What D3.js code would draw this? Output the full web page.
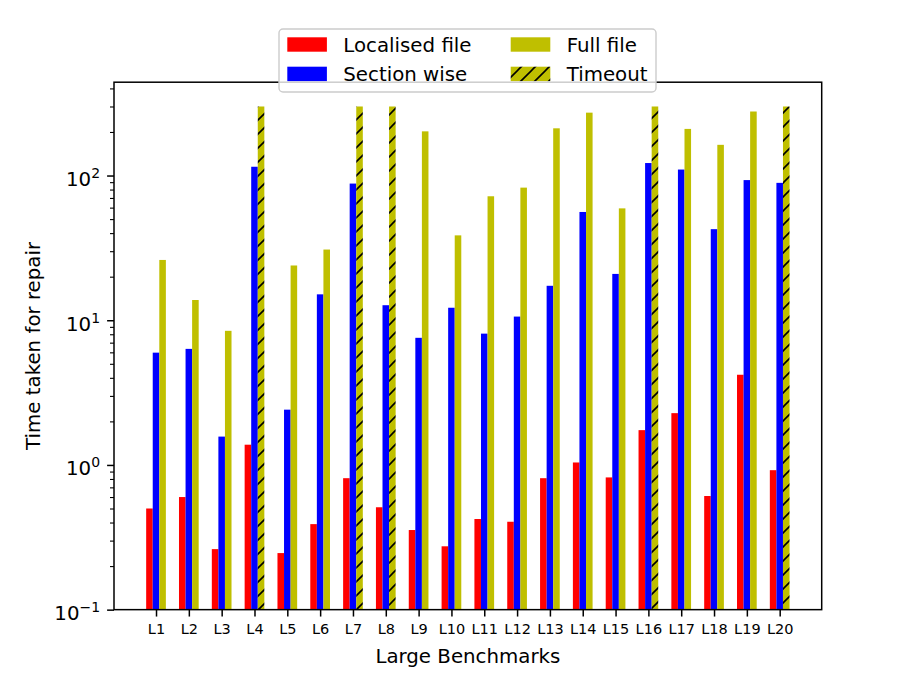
<!DOCTYPE html>
<html><head>
<meta charset="utf-8">
<title>Time taken for repair - Large Benchmarks</title>
<script src="https://cdn.jsdelivr.net/npm/d3@7/dist/d3.min.js"></script>
<style>
  body { margin: 0; background: white; }
  svg { display: block; font-family: "DejaVu Sans", sans-serif; }
</style>
</head>
<body>
<svg id="chart" width="913" height="685"></svg>

<script>
// values (seconds, log scale)
const benchmarks = ["L1","L2","L3","L4","L5","L6","L7","L8","L9","L10",
                    "L11","L12","L13","L14","L15","L16","L17","L18","L19","L20"];
const localised = [0.50,0.60,0.262,1.38,0.246,0.39,0.81,0.51,0.355,0.274,
                   0.423,0.405,0.81,1.04,0.82,1.74,2.28,0.61,4.2,0.92];
const sectionWise = [5.97,6.34,1.57,115,2.41,15.1,88,12.7,7.56,12.2,
                     8.08,10.6,17.3,56,20.9,122,110,42.6,93,89];
// null where the full-file run timed out
const fullFile = [26.1,13.8,8.45,null,23.9,30.8,null,null,202,38.6,
                  71.9,82.5,212,272,59.3,null,210,163,277,null];
const timeoutValue = 300;
const timedOut = fullFile.map(v => v === null);

const yTicks = [0.1, 1, 10, 100];
const yTickExp = ["\u22121", "0", "1", "2"];

const legendItems = [
  {label: "Localised file", color: "#ff0000", hatch: false},
  {label: "Section wise", color: "#0000ff", hatch: false},
  {label: "Full file", color: "#bfbf00", hatch: false},
  {label: "Timeout", color: "#bfbf00", hatch: true}
];

// layout (matplotlib default axes box scaled to 913x685)
const axL = 114, axR = 821.7, axT = 82.2, axB = 609.65;
const barW = 0.2;

const svg = d3.select("#chart");

// hatch pattern for timeouts
const defs = svg.append("defs");
const pat = defs.append("pattern")
  .attr("id", "hatch")
  .attr("patternUnits", "userSpaceOnUse")
  .attr("width", 14).attr("height", 14);
pat.append("rect").attr("width", 14).attr("height", 14).attr("fill", "#bfbf00");
pat.append("path")
  .attr("d", "M-3.5,3.5 L3.5,-3.5 M0,14 L14,0 M10.5,17.5 L17.5,10.5")
  .attr("stroke", "black").attr("stroke-width", 1.6);

let x = d3.scaleLinear()
  .domain([-1 - 0.28, benchmarks.length + 0.28])
  .range([axL, axR]);

let y = d3.scaleLog()
  .domain([0.1, Math.pow(10, 2.645)])
  .range([axB, axT]);

// bars
function drawBars(values, offset, fill) {
  svg.append("g").selectAll("rect")
    .data(values.map((v, i) => ({v: v, i: i})).filter(d => d.v !== null))
    .enter().append("rect")
      .attr("x", d => x(d.i + offset - barW / 2))
      .attr("width", x(barW) - x(0))
      .attr("y", d => y(d.v))
      .attr("height", d => y(0.1) - y(d.v))
      .attr("fill", fill);
}
drawBars(localised, -barW, "#ff0000");
drawBars(sectionWise, 0, "#0000ff");
drawBars(fullFile, barW, "#bfbf00");
drawBars(timedOut.map(t => t ? timeoutValue : null), barW, "url(#hatch)");

// x axis
let xAxis = svg.append("g")
  .attr("transform", "translate(0," + axB + ")")
  .call(d3.axisBottom(x)
    .tickValues(d3.range(benchmarks.length))
    .tickFormat(i => benchmarks[i])
    .tickSize(6.9).tickPadding(7).tickSizeOuter(0));
xAxis.select(".domain").remove();
xAxis.selectAll(".tick line").attr("stroke-width", 1.5);
xAxis.selectAll(".tick text")
  .attr("font-size", "14.5px").attr("font-family", "DejaVu Sans").attr("fill", "black");

// y axis, minor ticks
let minor = [];
for (let e = -1; e < 3; e++) {
  for (let k = 2; k <= 9; k++) {
    let v = k * Math.pow(10, e);
    if (v < y.domain()[1]) minor.push(v);
  }
}
let yMinor = svg.append("g")
  .attr("transform", "translate(" + axL + ",0)")
  .call(d3.axisLeft(y).tickValues(minor).tickFormat("").tickSize(4).tickSizeOuter(0));
yMinor.select(".domain").remove();
yMinor.selectAll(".tick line").attr("stroke-width", 1.1);

// y axis, major ticks with 10^n labels
let yAxis = svg.append("g")
  .attr("transform", "translate(" + axL + ",0)")
  .call(d3.axisLeft(y).tickValues(yTicks).tickFormat("").tickSize(6.9).tickPadding(7).tickSizeOuter(0));
yAxis.select(".domain").remove();
yAxis.selectAll(".tick line").attr("stroke-width", 1.5);
yAxis.selectAll(".tick text")
  .attr("font-size", "19.8px").attr("font-family", "DejaVu Sans").attr("fill", "black")
  .attr("dy", "0.5em")
  .each(function(d, i) {
    let t = d3.select(this);
    t.append("tspan").text("10");
    t.append("tspan").attr("font-size", "14px").attr("dy", "-8").text(yTickExp[i]);
  });

// axes frame
svg.append("rect")
  .attr("x", axL).attr("y", axT)
  .attr("width", axR - axL).attr("height", axB - axT)
  .attr("fill", "none").attr("stroke", "black").attr("stroke-width", 1.5);

// axis titles
svg.append("text")
  .attr("x", (axL + axR) / 2).attr("y", 662.7)
  .attr("text-anchor", "middle").attr("font-size", "19.8px")
  .text("Large Benchmarks");

svg.append("text")
  .attr("transform", "translate(40.4," + (axT + axB) / 2 + ") rotate(-90)")
  .attr("text-anchor", "middle").attr("font-size", "19.8px")
  .text("Time taken for repair");

// legend
let legend = svg.append("g");
legend.append("rect")
  .attr("x", 279).attr("y", 29).attr("width", 377).attr("height", 63)
  .attr("rx", 4).attr("ry", 4)
  .attr("fill", "white").attr("fill-opacity", 0.8)
  .attr("stroke", "#cccccc").attr("stroke-width", 1.4);

const colX = [287.3, 510.7];
const rowY = [37.3, 66.7];
legendItems.forEach(function(d, i) {
  let cx = colX[Math.floor(i / 2)], cy = rowY[i % 2];
  legend.append("rect")
    .attr("x", cx).attr("y", cy).attr("width", 39.6).attr("height", 14.4)
    .attr("fill", d.hatch ? "url(#hatch)" : d.color);
  legend.append("text")
    .attr("x", cx + 56).attr("y", cy + 14.4)
    .attr("font-size", "19.8px")
    .text(d.label);
});
</script>
</body>
</html>
